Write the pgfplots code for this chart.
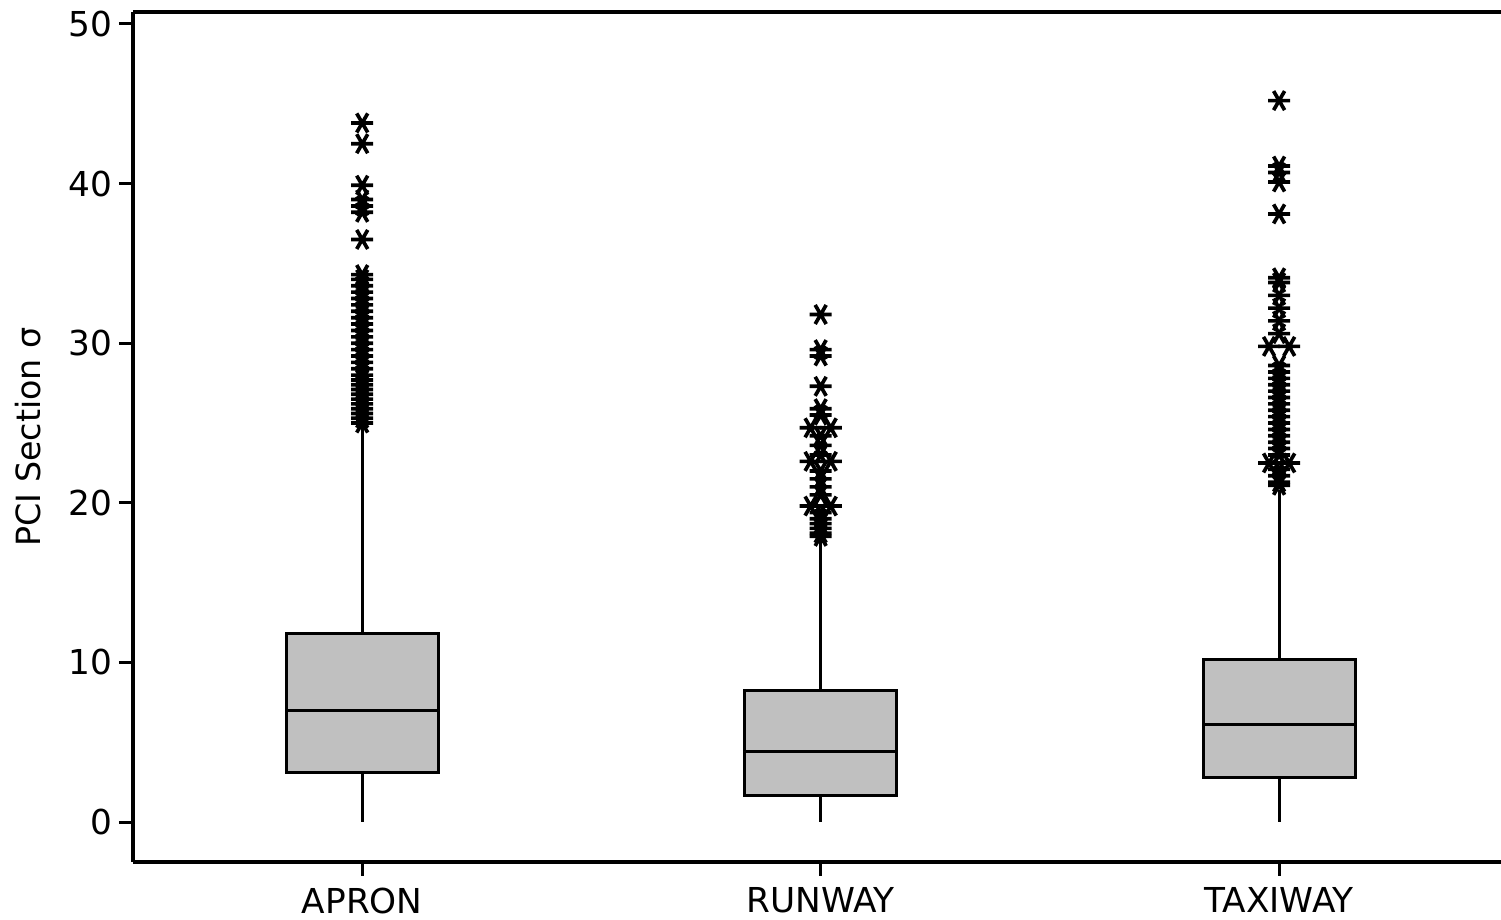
\documentclass[border=0pt]{standalone}
\usepackage{fontspec}
\setmainfont{DejaVu Sans}
\usepackage{pgfplots}
\pgfplotsset{compat=1.18}
\usepgfplotslibrary{statistics}
\definecolor{boxgray}{HTML}{C0C0C0}
\begin{document}
\begin{tikzpicture}
\path[use as bounding box] (-39.9pt,-17.4pt) rectangle (410.4pt,258.6pt);
\begin{axis}[
  scale only axis,
  width=410.4pt, height=255pt,
  xmin=0.5, xmax=3.484,
  ymin=-2.5, ymax=50.75,
  axis x line=box, axis y line=left,
  axis line style={-, line width=1pt},
  xtick={1,2,3}, xticklabels={APRON,RUNWAY,TAXIWAY},
  ytick={0,10,20,30,40,50},
  xtick pos=bottom, ytick pos=left,
  tick align=outside,
  major tick length=4.2pt,
  tick style={line width=0.9pt, black},
  tick label style={font=\fontsize{10.3}{12}\selectfont},
  yticklabel style={xshift=1.6pt},
  /pgf/number format/assume math mode=true,
  ylabel={PCI Section σ},
  ylabel style={font=\fontsize{10}{12}\selectfont, at={(rel axis cs:0,0.5)}, anchor=center, yshift=31.5pt},
  boxplot/draw direction=y,
  clip=false,
]
\addplot+[boxplot prepared={lower whisker=0, lower quartile=3.13, median=7.02, upper quartile=11.84, upper whisker=24.9, draw position=1, box extend=0.332, whisker extend=0}, fill=boxgray, draw=black, line width=0.9pt, mark=none, solid] coordinates {};
\addplot+[boxplot prepared={lower whisker=0, lower quartile=1.69, median=4.45, upper quartile=8.27, upper whisker=17.7, draw position=2, box extend=0.332, whisker extend=0}, fill=boxgray, draw=black, line width=0.9pt, mark=none, solid] coordinates {};
\addplot+[boxplot prepared={lower whisker=0, lower quartile=2.82, median=6.14, upper quartile=10.21, upper whisker=20.8, draw position=3, box extend=0.332, whisker extend=0}, fill=boxgray, draw=black, line width=0.9pt, mark=none, solid] coordinates {};
% outliers
\addplot[only marks, mark=asterisk, mark size=3.3pt, line width=1.1pt, black, mark options={rotate=90}] coordinates {
(1,43.8) (1,42.5) (1,39.9) (1,39.0) (1,38.6) (1,38.2) (1,36.5)
(1,34.3) (1,34.0) (1,33.6) (1,33.2) (1,32.8) (1,32.4) (1,32.0) (1,31.6) (1,31.2) (1,30.8) (1,30.4) (1,30.0) (1,29.6)
(1,29.2) (1,28.8) (1,28.4) (1,28.0) (1,27.7) (1,27.4) (1,27.1) (1,26.8) (1,26.5) (1,26.2) (1,25.9) (1,25.6) (1,25.3) (1,25.0)
(2,31.8) (2,29.6) (2,29.2) (2,27.3) (2,25.9) (2,25.5) (1.978,24.7) (2.022,24.7) (2,24.2) (2,23.6) (2,23.0)
(1.978,22.6) (2.022,22.6) (2,22.0) (2,21.5) (2,21.0) (2,20.5) (1.978,19.8) (2.022,19.8) (2,19.4) (2,19.0) (2,18.7) (2,18.4) (2,18.1) (2,17.9)
(3,45.2) (3,41.1) (3,40.7) (3,40.1) (3,38.1) (3,34.1) (3,33.8) (3,33.0) (3,32.2) (3,31.4) (3,30.6) (2.978,29.8) (3.022,29.8)
(3,28.6) (3,28.2) (3,27.8) (3,27.4) (3,27.0) (3,26.6) (3,26.2) (3,25.8) (3,25.4) (3,25.0) (3,24.6) (3,24.2) (3,23.8) (3,23.4) (3,23.0)
(2.978,22.5) (3.022,22.5) (3,22.1) (3,21.7) (3,21.3) (3,21.1)
};
\end{axis}
\end{tikzpicture}
\end{document}
